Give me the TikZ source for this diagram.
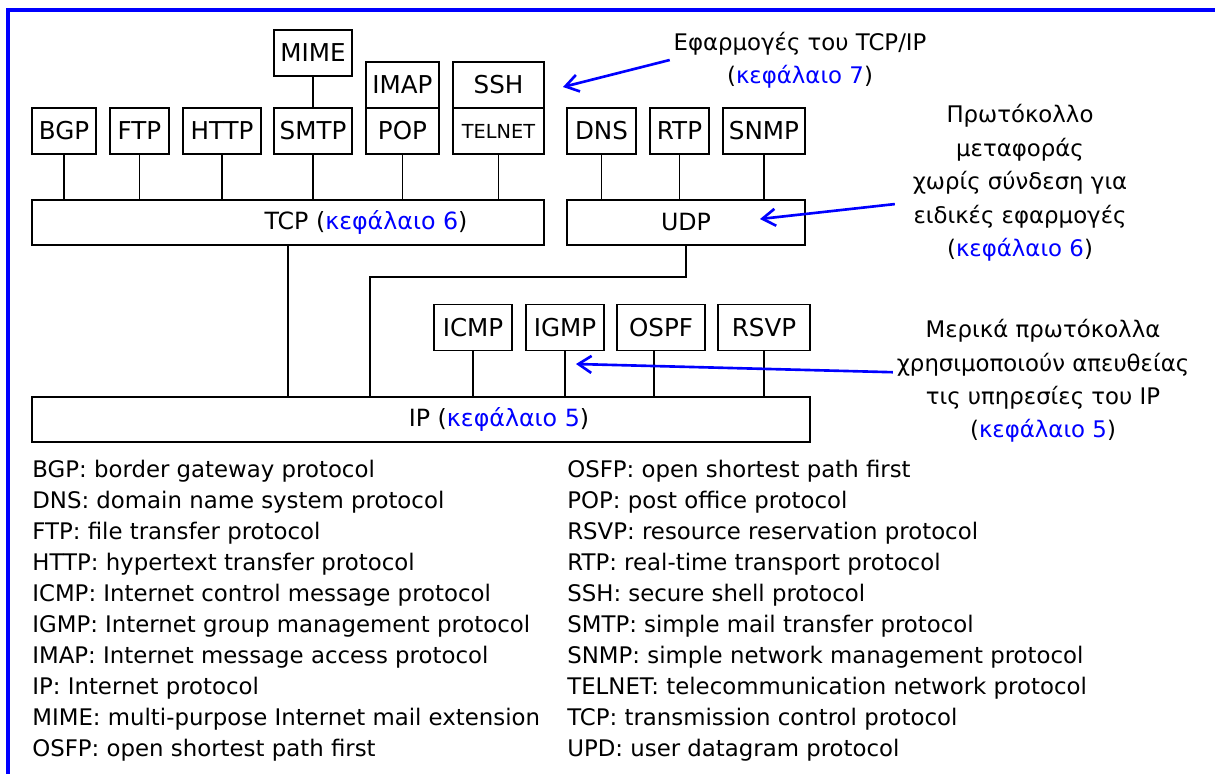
\documentclass[tikz,border=0pt]{standalone}
\usepackage{fontspec}
\setmainfont{DejaVu Sans}
\usetikzlibrary{arrows.meta,positioning}
\definecolor{linkblue}{HTML}{0000FF}
\newcommand{\chapref}[1]{(\textcolor{linkblue}{κεφάλαιο #1})}

\begin{document}
\begin{tikzpicture}[x=0.02cm, y=-0.02cm,
    proto/.style={draw, line width=0.8pt, outer sep=0pt, inner sep=0pt, minimum height=0.92cm, font=\fontsize{14}{16}\selectfont},
    layer/.style={draw, line width=0.8pt, outer sep=0pt, inner sep=0pt, minimum height=0.9cm, font=\fontsize{13.5}{16}\selectfont},
    wire/.style={line width=0.8pt},
    note/.style={align=center, inner sep=2pt, font=\fontsize{13}{19}\selectfont},
    pointer/.style={draw=linkblue, line width=1.5pt, -{Straight Barb[length=2.6mm,width=3.4mm]}},
    legend/.style={anchor=west, inner sep=0pt, text height=0.75em, text depth=0.22em, font=\fontsize{13}{15}\selectfont}
]
    \useasboundingbox (0,0) rectangle (1215,774);

    % Frame
    \draw[linkblue, line width=2pt] (1215,10) -- (8,10) -- (8,774);

    % Applications
    \node[proto, minimum width=1.28cm] (bgp) at (64,131) {BGP};
    \node[proto, minimum width=1.18cm] (ftp) at (139.5,131) {FTP};
    \node[proto, minimum width=1.56cm] (http) at (222,131) {HTTP};
    \node[proto, minimum width=1.56cm] (smtp) at (313,131) {SMTP};
    \node[proto, minimum width=1.56cm] (mime) at (313,53) {MIME};
    \node[proto, minimum width=1.46cm] (pop) at (402.5,131) {POP};
    \node[proto, minimum width=1.46cm, above=0pt of pop] (imap) {IMAP};
    \node[proto, minimum width=1.82cm, font=\fontsize{11}{13}\selectfont] (telnet) at (498.5,131) {TELNET};
    \node[proto, minimum width=1.82cm, above=0pt of telnet] (ssh) {SSH};
    \node[proto, minimum width=1.38cm] (dns) at (601.5,131) {DNS};
    \node[proto, minimum width=1.18cm] (rtp) at (679.5,131) {RTP};
    \node[proto, minimum width=1.64cm] (snmp) at (764,131) {SNMP};

    % Transport
    \node[layer, minimum width=10.24cm] (tcp) at (288,222.5) {};
    \node[font=\fontsize{13.5}{16}\selectfont] (tcplbl) at (366,222.5) {TCP \chapref{6}};
    \node[layer, minimum width=4.76cm] (udp) at (686,222.5) {UDP};

    % Network
    \node[proto, minimum width=1.56cm] (icmp) at (473,327.5) {ICMP};
    \node[proto, minimum width=1.56cm] (igmp) at (565,327.5) {IGMP};
    \node[proto, minimum width=1.76cm] (ospf) at (661,327.5) {OSPF};
    \node[proto, minimum width=1.84cm] (rsvp) at (764,327.5) {RSVP};
    \node[layer, minimum width=15.56cm] (ip) at (421,419.5) {};
    \node[font=\fontsize{13.5}{16}\selectfont] (iplbl) at (499,419.5) {IP \chapref{5}};

    % Links
    \draw[wire] (mime.south) -- (smtp.north);
    \foreach \p in {bgp,ftp,http,smtp,pop,telnet}
        \draw[wire] (\p.south) -- (\p.south |- tcp.north);
    \foreach \p in {dns,rtp,snmp}
        \draw[wire] (\p.south) -- (\p.south |- udp.north);
    \foreach \p in {icmp,igmp,rsvp}
        \draw[wire] (\p.south) -- (\p.south |- ip.north);
    \draw[wire] ([xshift=-4pt]ospf.south) -- ([xshift=-4pt]ospf.south |- ip.north);
    \draw[wire] (tcp.south) -- (tcp.south |- ip.north);
    \coordinate (udpbend) at (370,277);
    \draw[wire] (udp.south) |- (udpbend) -- (udpbend |- ip.north);

    % Notes
    \node[note] (appsnote) at (800,60) {Εφαρμογές του TCP/IP\\\chapref{7}};
    \node[note] (udpnote) at (1020,183) {Πρωτόκολλο\\μεταφοράς\\χωρίς σύνδεση για\\ειδικές εφαρμογές\\\chapref{6}};
    \node[note] (ipnote) at (1043,381) {Μερικά πρωτόκολλα\\χρησιμοποιούν απευθείας\\τις υπηρεσίες του IP\\\chapref{5}};

    \coordinate (appstip) at (563,87);
    \coordinate (udptip) at (760,219);
    \coordinate (iptip) at (576,364);
    \draw[pointer] (appsnote.west) -- (appstip);
    \draw[pointer] ([shift={(-8pt,-12pt)}]udpnote.west) -- (udptip);
    \draw[pointer] ([yshift=5pt]ipnote.west) -- (iptip);

    % Legend
    \foreach \entry [count=\i] in {BGP: border gateway protocol, DNS: domain name system protocol,
        FTP: file transfer protocol, HTTP: hypertext transfer protocol,
        ICMP: Internet control message protocol, IGMP: Internet group management protocol,
        IMAP: Internet message access protocol, IP: Internet protocol,
        MIME: multi-purpose Internet mail extension, OSFP: open shortest path first}
        \node[legend] (keyl\i) at (32,{473+31*(\i-1)}) {\entry};
    \foreach \entry [count=\i] in {OSFP: open shortest path first, POP: post office protocol,
        RSVP: resource reservation protocol, RTP: real-time transport protocol,
        SSH: secure shell protocol, SMTP: simple mail transfer protocol,
        SNMP: simple network management protocol, TELNET: telecommunication network protocol,
        TCP: transmission control protocol, UPD: user datagram protocol}
        \node[legend] (keyr\i) at (567,{473+31*(\i-1)}) {\entry};
\end{tikzpicture}
\end{document}
